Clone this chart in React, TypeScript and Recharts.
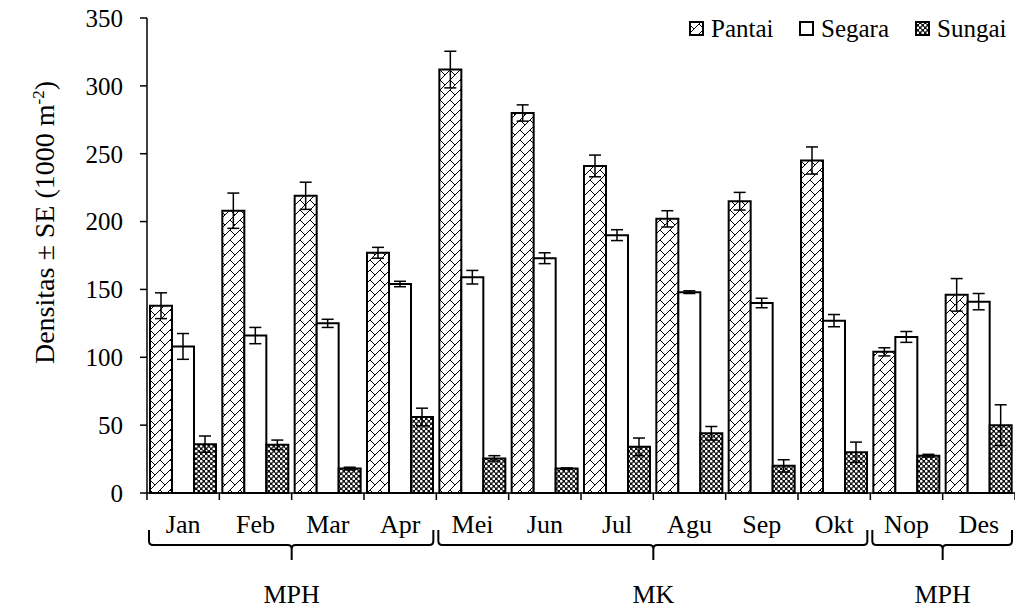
import React from "react";
import { Bar, BarChart, ErrorBar, Label, Legend, XAxis, YAxis } from "recharts";

const FONT = "'Liberation Serif'";
const INK = "#000";

const MONTHS = ["Jan", "Feb", "Mar", "Apr", "Mei", "Jun", "Jul", "Agu", "Sep", "Okt", "Nop", "Des"];
const PANTAI = [138, 208, 219, 177, 312, 280, 241, 202, 215, 245, 104, 146];
const PANTAI_SE = [9.5, 13, 10, 4, 13.5, 6, 8, 6, 6.5, 10, 3, 12];
const SEGARA = [108, 116, 125, 154, 159, 173, 190, 148, 140, 127, 115, 141];
const SEGARA_SE = [9.5, 6, 3, 2, 5, 4, 4, 1, 3.5, 4.5, 4, 6];
const SUNGAI = [36, 35.5, 18, 56, 25.5, 18, 34, 44, 20, 30, 27.5, 50];
const SUNGAI_SE = [6, 3.5, 1, 6.5, 2, 0.5, 6.5, 5, 4.5, 7.5, 1, 15];

const SEASON_LABELS = ["MPH", "MK", "MPH"];
const SEASON_SPANS = [4, 6, 2];
const Y_TICKS = [0, 50, 100, 150, 200, 250, 300, 350];

const data = MONTHS.map((month, i) => ({
  month,
  pantai: PANTAI[i],
  pantaiSe: PANTAI_SE[i],
  segara: SEGARA[i],
  segaraSe: SEGARA_SE[i],
  sungai: SUNGAI[i],
  sungaiSe: SUNGAI_SE[i],
}));

// where each season brace starts (index into MONTHS)
const seasonStarts = SEASON_SPANS.map((_, i) => SEASON_SPANS.slice(0, i).reduce((a, b) => a + b, 0));

function Patterns({ prefix }: { prefix: string }) {
  return (
    <defs>
      <pattern id={`${prefix}-brick`} width={10} height={10} patternUnits="userSpaceOnUse">
        <rect width={10} height={10} fill="#fff" />
        <path d="M0,10 L10,0 M-1,1 L1,-1 M9,11 L11,9 M0,0 L5,5" stroke={INK} strokeWidth={1} />
      </pattern>
      <pattern id={`${prefix}-dots`} width={5} height={5} patternUnits="userSpaceOnUse">
        <rect width={5} height={5} fill="#111" />
        <circle cx={1.25} cy={1.25} r={1.35} fill="#fff" />
        <circle cx={3.75} cy={3.75} r={1.35} fill="#fff" />
      </pattern>
    </defs>
  );
}

const FILLS: Record<string, string> = {
  pantai: "brick",
  segara: "",
  sungai: "dots",
};
// horizontal start of each legend entry, and the width of its text
const LEGEND_STEP = [0, 110, 226];

function LegendContent(props: any) {
  const items = props.payload || [];
  return (
    <svg width={330} height={30} style={{ display: "block" }}>
      <Patterns prefix="lg" />
      {items.map((it: any, i: number) => {
        const kind = FILLS[it.dataKey];
        const x0 = LEGEND_STEP[i] ?? i * 112;
        return (
          <g key={it.dataKey}>
            <rect
              x={x0 + 1}
              y={8}
              width={13}
              height={13}
              fill={kind ? `url(#lg-${kind})` : "#fff"}
              stroke={INK}
              strokeWidth={2}
            />
            <text x={x0 + 22} y={23} fontFamily={FONT} fontSize={25} fill={INK}>
              {it.value}
            </text>
          </g>
        );
      })}
    </svg>
  );
}

function MonthTick(props: any) {
  const { x, y, payload, index } = props;
  const bw = payload && payload.offset ? payload.offset * 2 : 868 / MONTHS.length;
  const left = x - bw / 2;
  const isLast = index === MONTHS.length - 1;
  const s = seasonStarts.indexOf(index);
  let brace = null;
  if (s >= 0) {
    const l = left + 2;
    const r = left + SEASON_SPANS[s] * bw - 3;
    const c = left + (SEASON_SPANS[s] * bw) / 2;
    const top = y + 37;
    const mid = y + 52;
    const tip = y + 67;
    const d =
      `M${l},${top} L${l},${mid - 4} Q${l},${mid} ${l + 4},${mid} L${c - 4},${mid} Q${c},${mid} ${c},${mid + 4} L${c},${tip} ` +
      `M${c},${mid + 4} Q${c},${mid} ${c + 4},${mid} L${r - 4},${mid} Q${r},${mid} ${r},${mid - 4} L${r},${top}`;
    brace = (
      <g>
        <path d={d} fill="none" stroke={INK} strokeWidth={2} />
        <text x={c} y={y + 110} textAnchor="middle" fontFamily={FONT} fontSize={26} fill={INK}>
          {SEASON_LABELS[s]}
        </text>
      </g>
    );
  }
  return (
    <g>
      <line x1={left} y1={y} x2={left} y2={y + 7} stroke={INK} strokeWidth={1.5} />
      {isLast && <line x1={left + bw} y1={y} x2={left + bw} y2={y + 7} stroke={INK} strokeWidth={1.5} />}
      <text x={x} y={y + 40} textAnchor="middle" fontFamily={FONT} fontSize={26} fill={INK}>
        {payload.value}
      </text>
      {brace}
    </g>
  );
}

function YTitle(props: any) {
  const vb = props.viewBox || { x: 0, y: 18, width: 147, height: 475 };
  const cx = vb.x + 54;
  const cy = vb.y + vb.height / 2 - 33;
  return (
    <text
      x={cx}
      y={cy}
      transform={`rotate(-90, ${cx}, ${cy})`}
      textAnchor="middle"
      fontFamily={FONT}
      fontSize={28}
      fill={INK}
    >
      Densitas ± SE (1000 m
      <tspan dy={-10} fontSize={17}>
        -2
      </tspan>
      <tspan dy={10}>)</tspan>
    </text>
  );
}

export default function App() {
  return (
    <div style={{ position: "absolute", left: 0, top: 0, width: 1015, height: 608, background: "#fff" }}>
      <BarChart
        width={1015}
        height={608}
        data={data}
        margin={{ top: 18, right: 0, bottom: 0, left: 0 }}
        barCategoryGap={3}
        barGap={0}
      >
        <Patterns prefix="bar" />
        <XAxis
          dataKey="month"
          height={115}
          interval={0}
          tickLine={false}
          tickSize={0}
          tickMargin={0}
          axisLine={{ stroke: INK, strokeWidth: 1.5 }}
          tick={(p: any) => <MonthTick {...p} />}
        />
        <YAxis
          type="number"
          domain={[0, 350]}
          ticks={Y_TICKS}
          width={147}
          tickSize={7}
          tickMargin={17}
          axisLine={{ stroke: INK, strokeWidth: 1.5 }}
          tickLine={{ stroke: INK, strokeWidth: 1.5 }}
          tick={{ fontSize: 25, fill: INK, fontFamily: FONT }}
        >
          <Label content={(p: any) => <YTitle {...p} />} />
        </YAxis>
        <Legend
          verticalAlign="middle"
          align="center"
          layout="horizontal"
          wrapperStyle={{ top: 14, left: 689, width: "auto", height: "auto" }}
          content={(p: any) => <LegendContent {...p} />}
        />
        <Bar dataKey="pantai" name="Pantai" fill="url(#bar-brick)" stroke={INK} strokeWidth={2} isAnimationActive={false}>
          <ErrorBar dataKey="pantaiSe" width={6} stroke={INK} strokeWidth={1.5} direction="y" isAnimationActive={false} />
        </Bar>
        <Bar dataKey="segara" name="Segara" fill="#fff" stroke={INK} strokeWidth={2} isAnimationActive={false}>
          <ErrorBar dataKey="segaraSe" width={6} stroke={INK} strokeWidth={1.5} direction="y" isAnimationActive={false} />
        </Bar>
        <Bar dataKey="sungai" name="Sungai" fill="url(#bar-dots)" stroke={INK} strokeWidth={2} isAnimationActive={false}>
          <ErrorBar dataKey="sungaiSe" width={6} stroke={INK} strokeWidth={1.5} direction="y" isAnimationActive={false} />
        </Bar>
      </BarChart>
    </div>
  );
}
